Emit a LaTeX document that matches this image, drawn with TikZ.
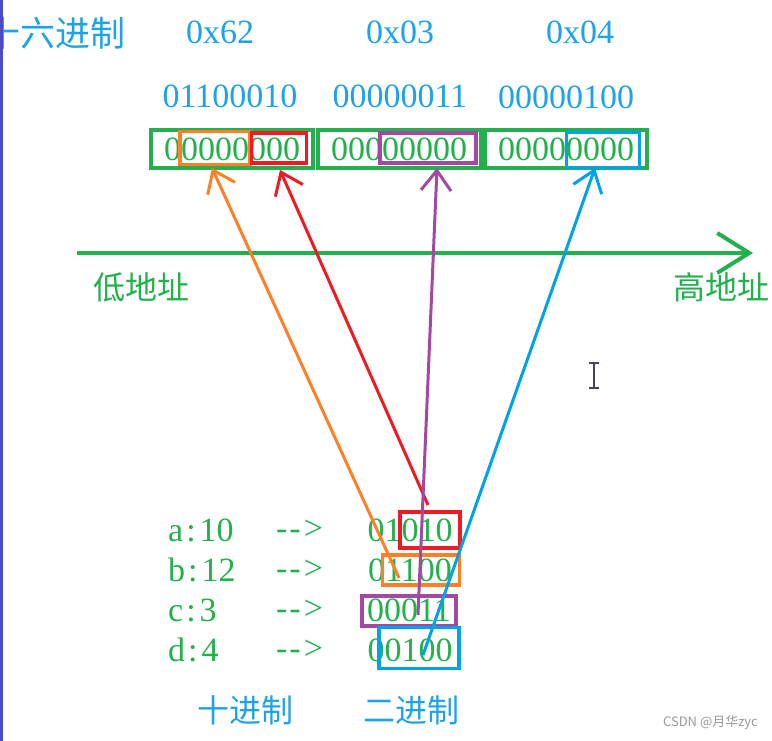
\documentclass[tikz,border=0pt]{standalone}
\usepackage{fontspec}
\newfontfamily\cjk{Noto Sans CJK SC}
\newfontfamily\numfont{Liberation Serif}
\usetikzlibrary{arrows.meta}
\definecolor{pgreen}{HTML}{22B14C}
\definecolor{pblue}{HTML}{1FA3E8}
\definecolor{pred}{HTML}{ED1C24}
\definecolor{porange}{HTML}{FF7F27}
\definecolor{ppurple}{HTML}{A349A4}
\definecolor{pcyan}{HTML}{00A2E8}
\definecolor{pbar}{HTML}{4B4BC8}
\definecolor{pcursor}{HTML}{44445A}
\begin{document}
\begin{tikzpicture}[x=1pt,y=-1pt,
  num/.style={inner sep=0pt, font=\numfont\fontsize{34}{40}\selectfont},
  hex/.style={num, text=pblue},
  bin/.style={num, text=pgreen},
  cjklab/.style={inner sep=0pt, anchor=base, font=\cjk\fontsize{32}{36}\selectfont},
  gbox/.style={draw=pgreen, line width=4pt, inner sep=0pt, minimum height=38pt, text=pgreen, font=\numfont\fontsize{34}{40}\selectfont},
  cbox/.style={draw=#1, line width=3.5pt, inner sep=0pt},
  arr/.style={line width=3pt, -{Straight Barb[length=20pt,width=30pt,line width=3pt]}},
]
\useasboundingbox (0,0) rectangle (772,741);
\fill[white] (0,0) rectangle (772,741);

% headers
\node[cjklab, text=pblue, anchor=base east, font=\cjk\fontsize{35}{40}\selectfont] (hexlab) at (126,47) {十六进制};
\node[hex] (h1) at (220,32) {0x62};
\node[hex] (h2) at (400,32) {0x03};
\node[hex] (h3) at (580,32) {0x04};
\node[hex] (bb1) at (230,96) {01100010};
\node[hex] (bb2) at (400,96) {00000011};
\node[hex] (bb3) at (566,97) {00000100};

% memory boxes
\node[gbox, minimum width=162pt] (m1) at (232,149) {00000000};
\node[gbox, minimum width=163pt] (m2) at (399,149) {00000000};
\node[gbox, minimum width=162pt] (m3) at (566,149) {00000000};
\node[cbox=porange, minimum width=70pt, minimum height=33pt] (ob) at (215,148) {};
\node[cbox=pred, minimum width=55pt, minimum height=30pt] (rb) at (279,148) {};
\node[cbox=ppurple, minimum width=96pt, minimum height=30pt] (pb) at (428,148) {};
\node[cbox=pcyan, minimum width=73pt, minimum height=35pt] (cb) at (603,150) {};

% axis
\coordinate (axL) at (77,253);
\coordinate (axR) at (753,253);
\draw[pgreen, line width=4pt, -{Straight Barb[length=32pt,width=40pt,line width=4pt]}] (axL) -- (axR);
\node[cjklab, text=pgreen] (low) at (141,299) {低地址};
\node[cjklab, text=pgreen] (high) at (721,299) {高地址};

% cursor
\draw[pcursor, line width=1.5pt] (589,363) -- (599,363) (594,363) -- (594,388) (589,388) -- (599,388);

% decimal to binary rows
\node[bin, anchor=west] (la) at (168,530) {a\hspace{3pt}:\hspace{4pt}10};
\node[bin, anchor=west] (lb) at (168,570) {b\hspace{3pt}:\hspace{4pt}12};
\node[bin, anchor=west] (lc) at (168,610) {c\hspace{3pt}:\hspace{4pt}3};
\node[bin, anchor=west] (ld) at (168,650) {d\hspace{3pt}:\hspace{4pt}4};
\node[bin, anchor=west] (ra) at (276,530) {{-}\hspace{2pt}{-}\hspace{3pt}>};
\node[bin, anchor=west] (rb2) at (276,570) {{-}\hspace{2pt}{-}\hspace{3pt}>};
\node[bin, anchor=west] (rc) at (276,610) {{-}\hspace{2pt}{-}\hspace{3pt}>};
\node[bin, anchor=west] (rd) at (276,650) {{-}\hspace{2pt}{-}\hspace{3pt}>};
\node[bin] (va) at (410,530) {01010};
\node[bin] (vb) at (410,570) {01100};
\node[bin] (vc) at (409,610) {00011};
\node[bin] (vd) at (410,650) {00100};
\node[cbox=pred, minimum width=60pt, minimum height=36pt] (ra2) at (430,530) {};
\node[cbox=porange, minimum width=77pt, minimum height=30pt] (ob2) at (421,570) {};
\node[cbox=ppurple, minimum width=94pt, minimum height=30pt] (pb2) at (409,611) {};
\node[cbox=pcyan, minimum width=80pt, minimum height=41pt] (cb2) at (419,648) {};

% arrows
\coordinate (oT) at (399,578); \coordinate (oH) at (212,168);
\coordinate (rT) at (428,505); \coordinate (rH) at (280,170);
\coordinate (pT) at (418,615); \coordinate (pH) at (437,168);
\coordinate (cT) at (423,655); \coordinate (cH) at (595,168);
\draw[arr, porange] (oT) -- (oH);
\draw[arr, pred] (rT) -- (rH);
\draw[arr, ppurple] (pT) -- (pH);
\draw[arr, pcyan] (cT) -- (cH);

% footer labels
\node[cjklab, text=pblue] (dec) at (245,722) {十进制};
\node[cjklab, text=pblue] (binl) at (411,722) {二进制};
\node[inner sep=0pt, anchor=east, text=gray!80, font=\cjk\fontsize{13}{15}\selectfont] (wm) at (758,723) {CSDN @月华zyc};

% left bar
\fill[pbar] (0,0) rectangle (3,741);
\end{tikzpicture}
\end{document}
